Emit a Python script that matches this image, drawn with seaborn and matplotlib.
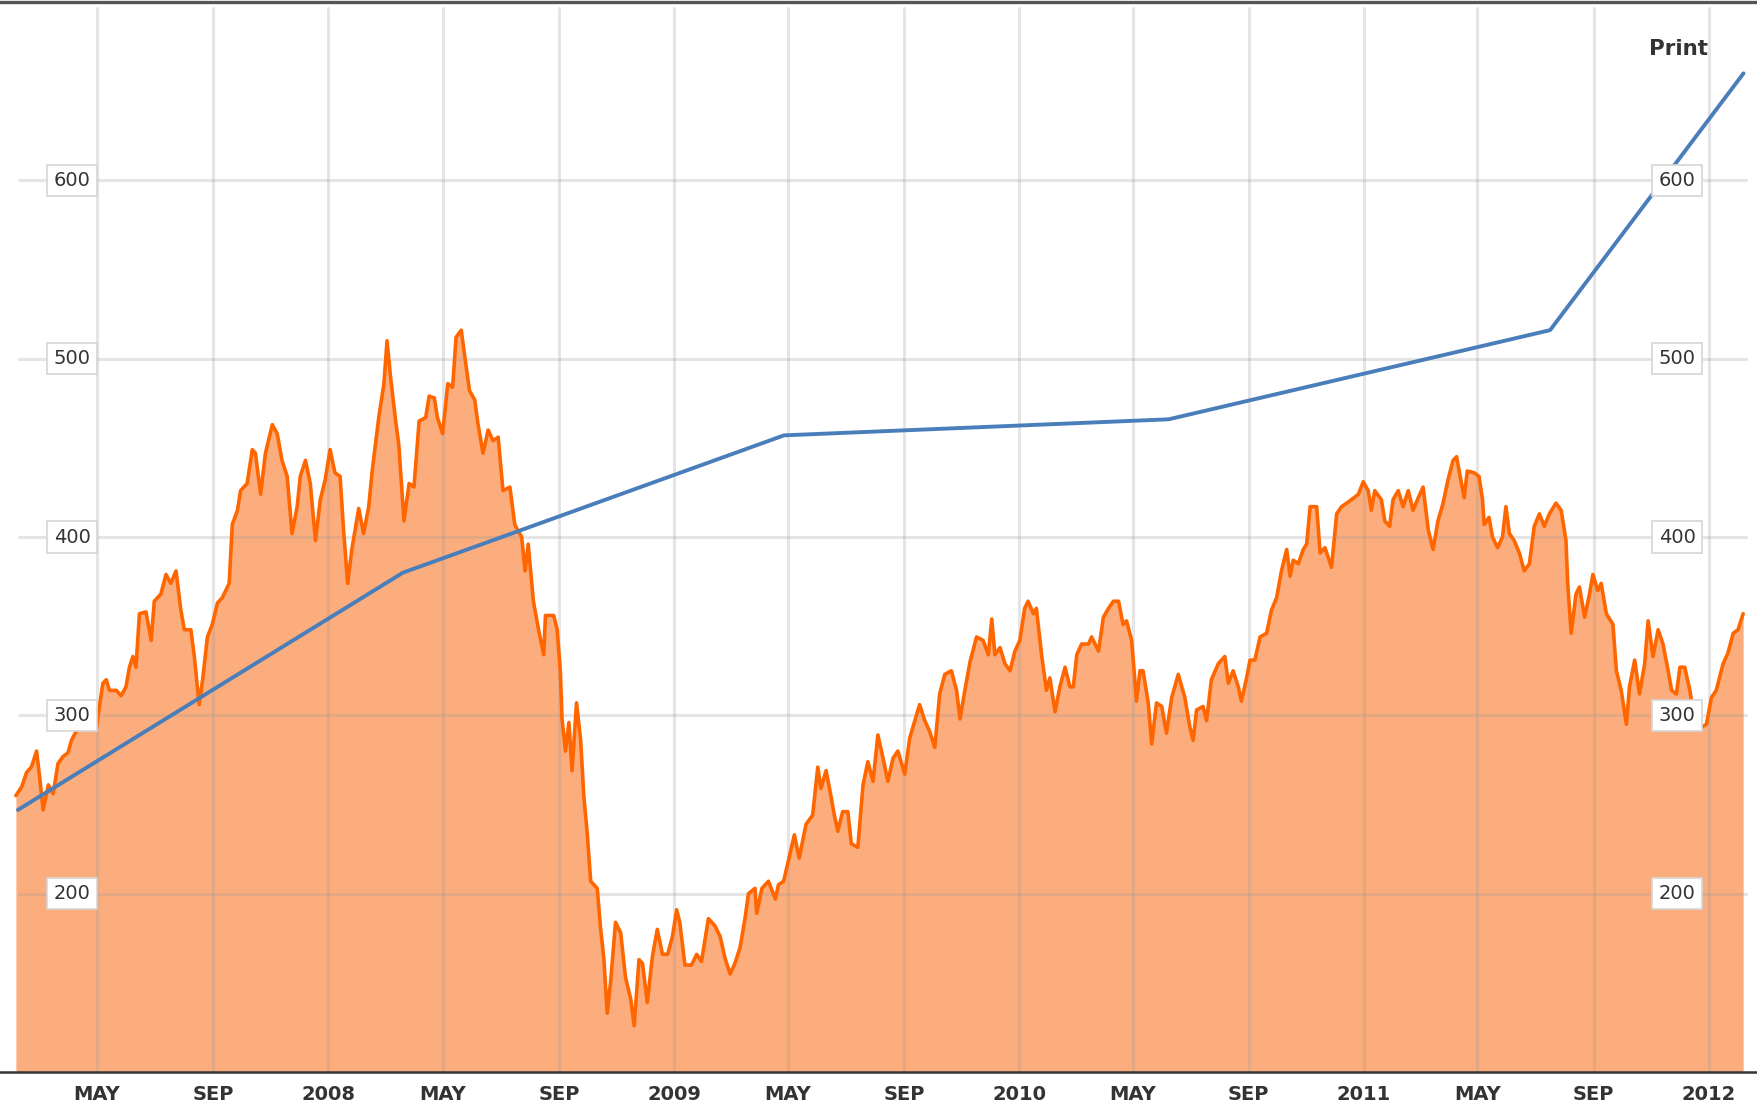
import pandas as pd
import matplotlib
matplotlib.use("Agg")
import matplotlib.pyplot as plt
import seaborn as sns

# orange price series as (decimal year, value)
price_years = [
    2007.094, 2007.111, 2007.125, 2007.139, 2007.154, 2007.163, 2007.173, 2007.188, 2007.202, 2007.216,
    2007.231, 2007.245, 2007.255, 2007.274, 2007.298, 2007.327, 2007.346, 2007.356, 2007.365, 2007.385,
    2007.399, 2007.413, 2007.423, 2007.433, 2007.442, 2007.452, 2007.471, 2007.486, 2007.495, 2007.514,
    2007.529, 2007.543, 2007.558, 2007.572, 2007.582, 2007.601, 2007.611, 2007.625, 2007.635, 2007.649,
    2007.663, 2007.678, 2007.692, 2007.712, 2007.721, 2007.736, 2007.745, 2007.764, 2007.779, 2007.788,
    2007.803, 2007.817, 2007.837, 2007.851, 2007.865, 2007.880, 2007.894, 2007.909, 2007.918, 2007.933,
    2007.947, 2007.962, 2007.976, 2007.990, 2008.005,
    2008.019, 2008.034, 2008.044, 2008.056, 2008.068, 2008.088, 2008.102, 2008.117, 2008.127, 2008.146,
    2008.161, 2008.170, 2008.180, 2008.195, 2008.204, 2008.219, 2008.234, 2008.248, 2008.263, 2008.282,
    2008.292, 2008.307, 2008.316, 2008.331, 2008.346, 2008.360, 2008.370, 2008.385, 2008.394, 2008.409,
    2008.424, 2008.433, 2008.448, 2008.463, 2008.477, 2008.492, 2008.506, 2008.526, 2008.540, 2008.560,
    2008.570, 2008.579, 2008.594, 2008.609,
    2008.624, 2008.629, 2008.653, 2008.663, 2008.672, 2008.677, 2008.687, 2008.697, 2008.706, 2008.719,
    2008.731, 2008.740, 2008.750, 2008.760, 2008.779, 2008.789, 2008.798, 2008.808, 2008.818, 2008.832,
    2008.847, 2008.861, 2008.876, 2008.886, 2008.900, 2008.910, 2008.924, 2008.939, 2008.953, 2008.968,
    2008.983, 2008.997, 2009.007, 2009.016, 2009.031, 2009.050, 2009.065, 2009.079, 2009.099, 2009.118,
    2009.133, 2009.147, 2009.162, 2009.176, 2009.191, 2009.205, 2009.215, 2009.234, 2009.239, 2009.254,
    2009.273, 2009.293, 2009.302, 2009.317,
    2009.348, 2009.362, 2009.382, 2009.401, 2009.416, 2009.425, 2009.440, 2009.450, 2009.464, 2009.474,
    2009.488, 2009.503, 2009.513, 2009.532, 2009.547, 2009.561, 2009.576, 2009.590, 2009.605, 2009.619,
    2009.634, 2009.648, 2009.668, 2009.682, 2009.697, 2009.711, 2009.726, 2009.740, 2009.755, 2009.769,
    2009.784, 2009.803, 2009.818, 2009.828, 2009.842, 2009.857, 2009.876, 2009.895, 2009.910, 2009.920,
    2009.929, 2009.944, 2009.958, 2009.973, 2009.987, 2010.002, 2010.016, 2010.026, 2010.041, 2010.050,
    2010.065, 2010.079, 2010.089, 2010.104, 2010.118, 2010.133, 2010.147, 2010.157, 2010.167, 2010.181,
    2010.201, 2010.210, 2010.230, 2010.244, 2010.259, 2010.273, 2010.288,
    2010.301, 2010.311, 2010.326, 2010.340, 2010.350, 2010.359, 2010.374, 2010.384, 2010.398, 2010.413,
    2010.427, 2010.442, 2010.461, 2010.480, 2010.495, 2010.504, 2010.514, 2010.533, 2010.543, 2010.557,
    2010.577, 2010.596, 2010.606, 2010.620, 2010.635, 2010.644, 2010.659, 2010.669, 2010.683, 2010.698,
    2010.717, 2010.731, 2010.746, 2010.760, 2010.775, 2010.785, 2010.794, 2010.809, 2010.823, 2010.833,
    2010.843, 2010.862, 2010.872, 2010.886, 2010.905, 2010.920, 2010.934, 2010.949, 2010.963, 2010.983,
    2010.997, 2011.012, 2011.021, 2011.031, 2011.050, 2011.060, 2011.074, 2011.084, 2011.099, 2011.113,
    2011.128, 2011.142, 2011.157, 2011.171, 2011.186, 2011.200, 2011.214, 2011.229, 2011.243, 2011.258,
    2011.268,
    2011.290, 2011.299, 2011.319, 2011.333, 2011.343, 2011.348, 2011.362, 2011.372, 2011.387, 2011.401,
    2011.411, 2011.421, 2011.435, 2011.450, 2011.464, 2011.479, 2011.493, 2011.508, 2011.522, 2011.537,
    2011.556, 2011.571, 2011.585, 2011.590, 2011.600, 2011.614, 2011.624, 2011.639, 2011.653, 2011.663,
    2011.677, 2011.687, 2011.702, 2011.721, 2011.731, 2011.745, 2011.760, 2011.769, 2011.784, 2011.798,
    2011.813, 2011.823, 2011.837, 2011.852, 2011.866, 2011.881, 2011.891, 2011.905, 2011.915, 2011.929,
    2011.944, 2011.958, 2011.973, 2011.992, 2012.007, 2012.021, 2012.041, 2012.055, 2012.070, 2012.084,
    2012.099,
]
price_values = [
    255, 260, 268, 271, 280, 265, 247, 261, 256, 273,
    277, 279, 286, 293, 299, 293, 318, 320, 314, 314,
    311, 316, 327, 333, 327, 357, 358, 342, 364, 368,
    379, 374, 381, 359, 348, 348, 333, 306, 320, 344,
    351, 363, 366, 374, 407, 415, 426, 430, 449, 447,
    424, 447, 463, 458, 443, 434, 402, 417, 434, 443,
    430, 398, 421, 432, 449,
    436, 434, 404, 374, 393, 416, 402, 417, 437, 467,
    486, 510, 490, 465, 452, 409, 430, 428, 465, 467,
    479, 478, 467, 458, 486, 484, 512, 516, 503, 482,
    477, 464, 447, 460, 454, 456, 426, 428, 407, 400,
    381, 396, 364, 348,
    334, 356, 356, 348, 325, 298, 280, 296, 269, 307,
    286, 255, 234, 207, 203, 180, 164, 133, 151, 184,
    178, 153, 141, 126, 163, 161, 139, 165, 180, 166,
    166, 176, 191, 184, 160, 160, 166, 162, 186, 182,
    176, 164, 155, 161, 170, 186, 200, 203, 189, 203,
    207, 197, 205, 207,
    233, 220, 239, 244, 271, 259, 269, 259, 244, 235,
    246, 246, 228, 226, 261, 274, 263, 289, 276, 263,
    276, 280, 267, 287, 297, 306, 297, 291, 282, 312,
    323, 325, 314, 298, 314, 330, 344, 342, 334, 354,
    334, 338, 329, 325, 336, 342, 360, 364, 357, 360,
    334, 314, 321, 302, 316, 327, 316, 316, 334, 340,
    340, 344, 336, 355, 360, 364, 364,
    351, 353, 342, 308, 325, 325, 307, 284, 307, 305,
    290, 310, 323, 310, 293, 286, 303, 305, 297, 320,
    329, 333, 318, 325, 316, 308, 321, 331, 331, 344,
    346, 359, 366, 381, 393, 378, 387, 385, 393, 396,
    417, 417, 391, 394, 383, 413, 417, 419, 421, 424,
    431, 426, 415, 426, 421, 409, 406, 421, 426, 417,
    426, 415, 422, 428, 404, 393, 409, 419, 432, 443,
    445,
    422, 437, 436, 434, 421, 407, 411, 400, 394, 400,
    417, 402, 398, 391, 381, 385, 406, 413, 406, 413,
    419, 415, 398, 374, 346, 368, 372, 355, 368, 379,
    370, 374, 357, 351, 325, 314, 295, 316, 331, 312,
    329, 353, 333, 348, 340, 325, 314, 312, 327, 327,
    314, 297, 293, 295, 310, 314, 329, 335, 346, 348,
    357,
]

# blue overlay line
trend_years = [2007.100, 2008.216, 2009.318, 2010.433, 2011.539, 2012.100]
trend_values = [247, 380, 457, 466, 516, 660]

y_ticks = [200, 300, 400, 500, 600]
tick_dates = ["2007-05-01", "2007-09-01", "2008-01-01", "2008-05-01", "2008-09-01",
              "2009-01-01", "2009-05-01", "2009-09-01", "2010-01-01", "2010-05-01",
              "2010-09-01", "2011-01-01", "2011-05-01", "2011-09-01", "2012-01-01"]
tick_labels = ["MAY", "SEP", "2008", "MAY", "SEP", "2009", "MAY", "SEP", "2010",
               "MAY", "SEP", "2011", "MAY", "SEP", "2012"]


def to_date(y):
    year = int(y)
    return pd.Timestamp(year=year, month=1, day=1) + pd.Timedelta(days=(y - year) * 365.25)


price = pd.DataFrame({"date": [to_date(y) for y in price_years], "value": price_values})
trend = pd.DataFrame({"date": [to_date(y) for y in trend_years], "value": trend_values})

sns.set_style("white")
plt.rcParams["font.family"] = ["DejaVu Sans"]

fig = plt.figure(figsize=(17.58, 11.06), dpi=100)
ax = fig.add_axes([0, 0.0307, 1, 0.9675])

# area under the price line
ax.fill_between(price["date"], price["value"], 100, color="#fcad7d", lw=0, zorder=1)

# light grid drawn over the fill
grid_kw = dict(color="#999999", alpha=0.25, lw=2.2, zorder=2)
for d in tick_dates:
    ax.axvline(pd.Timestamp(d), ymax=0.994, **grid_kw)
for v in y_ticks:
    ax.axhline(v, xmin=0.011, xmax=0.993, **grid_kw)

sns.lineplot(data=price, x="date", y="value", color="#ff6600", lw=2.6, ax=ax, zorder=3)
sns.lineplot(data=trend, x="date", y="value", color="#4a7ebb", lw=2.8, ax=ax, zorder=4)

ax.set_xlim(to_date(2007.048), to_date(2012.142))
ax.set_ylim(100, 700)
ax.set_xlabel("")
ax.set_ylabel("")
ax.set_yticks([])
ax.set_xticks([pd.Timestamp(d) for d in tick_dates])
ax.set_xticklabels(tick_labels, fontsize=14, fontweight="bold", color="#333333")
ax.tick_params(axis="x", length=0, pad=9)

for s in ["left", "right"]:
    ax.spines[s].set_visible(False)
ax.spines["top"].set_color("#555555")
ax.spines["top"].set_linewidth(2.4)
ax.spines["bottom"].set_color("#333333")
ax.spines["bottom"].set_linewidth(1.8)

# boxed value labels on both sides
for v in y_ticks:
    for xpos in (0.041, 0.954):
        ax.text(xpos, v, str(v), transform=ax.get_yaxis_transform(), ha="center", va="center",
                fontsize=14, color="#333333", zorder=6,
                bbox=dict(boxstyle="square,pad=0.32", fc="white", ec="#d6d6d6", lw=1.2))

ax.text(0.9545, 0.956, "Print", transform=ax.transAxes, ha="center", va="center",
        fontsize=15.5, fontweight="bold", color="#333333")

fig.savefig("out.png", dpi=100)
